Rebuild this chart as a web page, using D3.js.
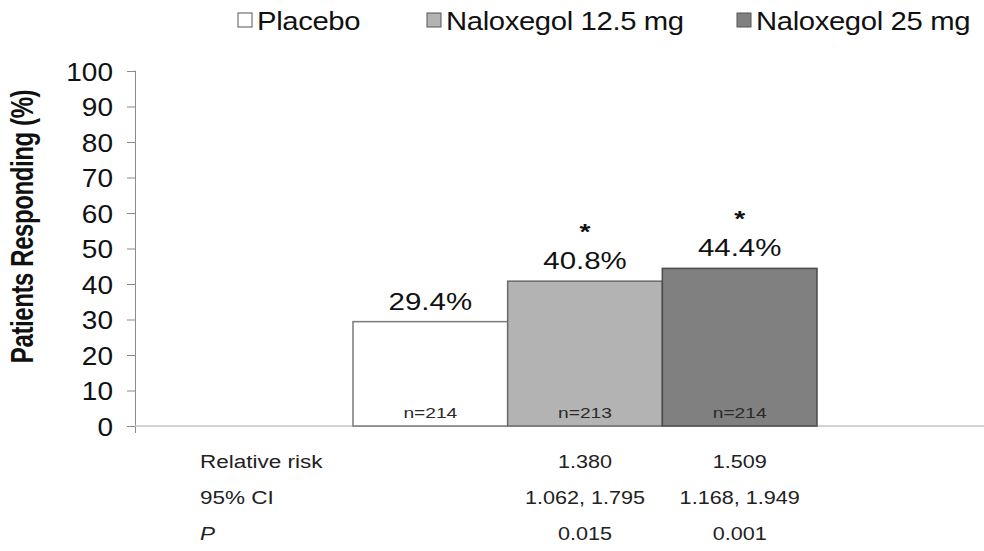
<!DOCTYPE html>
<html>
<head>
<meta charset="utf-8">
<script src="https://cdn.jsdelivr.net/npm/d3@7"></script>
<style>
  html, body { margin: 0; padding: 0; background: #ffffff; }
  svg { display: block; font-family: "Liberation Sans", Arial, Helvetica, sans-serif; }
</style>
</head>
<body>
<svg id="chart" width="984" height="551"></svg>
<script>
// Treatment arms and responder rates
const series = ["Placebo", "Naloxegol 12.5 mg", "Naloxegol 25 mg"];
const responders = [29.4, 40.8, 44.4];
const sampleSizes = [214, 213, 214];
const significant = [false, true, true];
const yTicks = [0, 10, 20, 30, 40, 50, 60, 70, 80, 90, 100];

// Statistics table under the bars
const statLabels = ["Relative risk", "95% CI", "P"];
const relativeRisk = ["", "1.380", "1.509"];
const ci95 = ["", "1.062, 1.795", "1.168, 1.949"];
const pValues = ["", "0.015", "0.001"];

const fills = ["#ffffff", "#b3b3b3", "#808080"];
const strokes = ["#7a7a7a", "#6a6a6a", "#4a4a4a"];

const svg = d3.select("#chart");
const SX = 1.28; // horizontal glyph stretch used for the labels

const y = d3.scaleLinear().domain([0, 100]).range([426, 71]);
const x = d3.scaleBand().domain(series).range([353, 817]).padding(0);

// text helper: places a label and widens its glyphs horizontally
function label(g, txt, px, py, opts) {
  const o = Object.assign({ size: 20, anchor: "middle", weight: "normal", fill: "#111", sx: SX, italic: false, ls: 0 }, opts || {});
  return g.append("text")
    .attr("transform", `translate(${px},${py}) scale(${o.sx},1)`)
    .attr("text-anchor", o.anchor)
    .attr("font-size", o.size)
    .attr("font-weight", o.weight)
    .attr("font-style", o.italic ? "italic" : "normal")
    .attr("letter-spacing", o.ls)
    .attr("fill", o.fill)
    .text(txt);
}

// y axis
const yAxis = svg.append("g")
  .attr("transform", "translate(135,0)")
  .call(d3.axisLeft(y).tickValues(yTicks).tickSize(8).tickFormat(() => ""));
yAxis.select(".domain").attr("stroke", "#8a8a8a").attr("d", `M-0.5,${y(100)}H0.5V${y(0) + 7}`);
yAxis.selectAll(".tick line").attr("stroke", "#8a8a8a");
yAxis.selectAll(".tick").each(function (d) {
  label(d3.select(this), String(d), -22, 9, { size: 25, anchor: "end", sx: 1.12 });
});

// x axis baseline
svg.append("line")
  .attr("x1", 135).attr("x2", 984)
  .attr("y1", y(0)).attr("y2", y(0))
  .attr("stroke", "#c4c4c4").attr("stroke-width", 1.5);

// y axis title
svg.append("text")
  .attr("transform", `translate(33,${(y(0) + y(100)) / 2 - 22}) rotate(-90) scale(1,${SX})`)
  .attr("text-anchor", "middle")
  .attr("font-size", 24)
  .attr("font-weight", "bold")
  .attr("letter-spacing", -0.4)
  .attr("fill", "#111")
  .text("Patients Responding (%)");

// bars
const bars = svg.append("g");
bars.selectAll("rect")
  .data(series)
  .join("rect")
  .attr("x", d => x(d))
  .attr("y", (d, i) => y(responders[i]))
  .attr("width", x.bandwidth())
  .attr("height", (d, i) => y(0) - y(responders[i]))
  .attr("fill", (d, i) => fills[i])
  .attr("stroke", (d, i) => strokes[i])
  .attr("stroke-width", 1.5);

// value, significance and sample-size labels
series.forEach((s, i) => {
  const cx = x(s) + x.bandwidth() / 2;
  label(svg, responders[i].toFixed(1) + "%", cx, y(responders[i]) - 12, { size: 23 });
  if (significant[i]) {
    label(svg, "*", cx, y(responders[i]) - 42, { size: 22, weight: "bold" });
  }
  label(svg, "n=" + sampleSizes[i], cx, 418, { size: 15, fill: "#2a2a2a" });
});

// statistics table
const rowY = [468, 504, 540];
const rows = [relativeRisk, ci95, pValues];
statLabels.forEach((lab, r) => {
  label(svg, lab, 200, rowY[r], { size: 18, anchor: "start", sx: 1.25, italic: lab === "P", fill: "#222" });
  series.forEach((s, i) => {
    if (rows[r][i]) label(svg, rows[r][i], x(s) + x.bandwidth() / 2, rowY[r], { size: 18, sx: 1.2, fill: "#222" });
  });
});

// legend
const legendX = [238, 427, 737];
const legend = svg.append("g");
series.forEach((s, i) => {
  legend.append("rect")
    .attr("x", legendX[i]).attr("y", 13)
    .attr("width", 14).attr("height", 14)
    .attr("fill", fills[i])
    .attr("stroke", "#555").attr("stroke-width", 1);
  label(legend, s, legendX[i] + 19, 30, { size: 25, anchor: "start", sx: 1.17, ls: -0.3 });
});
</script>
</body>
</html>
